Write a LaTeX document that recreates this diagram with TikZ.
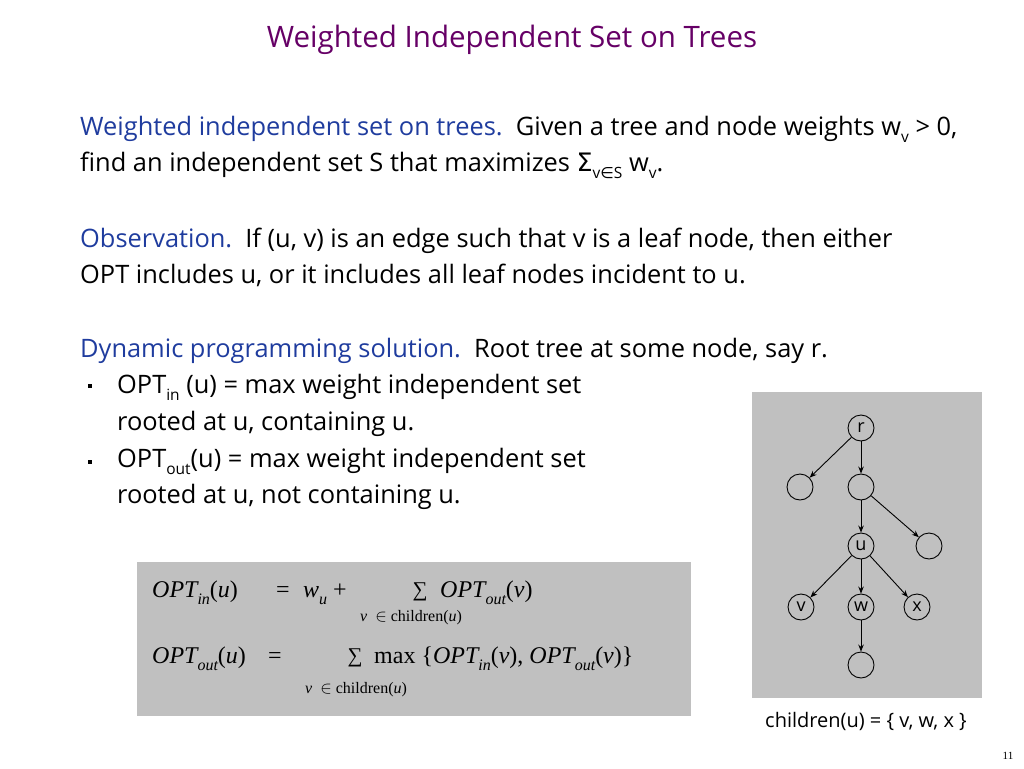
\documentclass[tikz,border=0pt]{standalone}
\usepackage{fontspec}
\usetikzlibrary{arrows.meta}
\setmainfont{Open Sans}
\newfontfamily\symf{DejaVu Sans}
\newfontfamily\tnr{Liberation Serif}
\definecolor{ttl}{HTML}{660066}
\definecolor{hd}{HTML}{1F3C9E}
\definecolor{boxg}{HTML}{C0C0C0}
\newcommand\sbs[1]{\raisebox{-0.3em}{\fontsize{15.5}{15.5}\selectfont #1}}
\newcommand\msb[1]{\raisebox{-0.3em}{\fontsize{16}{16}\selectfont\itshape #1}}
\tikzset{
  txt/.style={anchor=base west, inner sep=0pt, font=\fontsize{25.4}{30}\selectfont},
  mth/.style={anchor=base west, inner sep=0pt, font=\tnr\fontsize{24}{28}\selectfont},
  msm/.style={anchor=base west, inner sep=0pt, font=\tnr\fontsize{16}{18}\selectfont},
  sm/.style={anchor=base, inner sep=0pt, font=\tnr\fontsize{21}{22}\selectfont},
  tn/.style={circle, draw, line width=0.9pt, minimum size=26pt, inner sep=0pt, font=\fontsize{18}{18}\selectfont},
  ar/.style={-{Stealth[length=7pt,width=5.5pt]}, line width=0.9pt},
  bul/.style={fill=black, minimum size=4pt, inner sep=0pt}
}
\begin{document}
\begin{tikzpicture}[x=1pt,y=-1pt]
\useasboundingbox (0,0) rectangle (1024,768);
% title
\node[anchor=base, inner sep=0pt, text=ttl, font=\fontsize{29.5}{32}\selectfont] (title) at (512,48) {Weighted Independent Set on Trees};
% paragraph 1
\node[txt] (p1a) at (80,135) {\textcolor{hd}{Weighted independent set on trees.}\ \ Given a tree and node weights w\sbs{v} > 0,};
\node[txt] (p1b) at (80,171) {find an independent set S that maximizes {\symf Σ}\sbs{v{\symf ∈}S} w\sbs{v}.};
% paragraph 2
\node[txt] (p2a) at (80,247) {\textcolor{hd}{Observation.}\ \ If (u, v) is an edge such that v is a leaf node, then either};
\node[txt] (p2b) at (80,283) {OPT includes u, or it includes all leaf nodes incident to u.};
% paragraph 3
\node[txt] (p3a) at (80,357) {\textcolor{hd}{Dynamic programming solution.}\ \ Root tree at some node, say r.};
\node[bul] (b1) at (90,386) {};
\node[txt] (p3b) at (117,393) {OPT\sbs{in} (u) = max weight independent set};
\node[txt] (p3c) at (117,430) {rooted at u, containing u.};
\node[bul] (b2) at (90,462) {};
\node[txt] (p3d) at (117,467) {OPT\sbs{out}(u) = max weight independent set};
\node[txt] (p3e) at (117,503) {rooted at u, not containing u.};
% formula box
\node[fill=boxg, draw=none, minimum width=554pt, minimum height=154pt, anchor=north west, inner sep=0pt] (fbox) at (137,562) {};
\node[mth] (f1l) at (152,597) {\itshape OPT\msb{in}\upshape(\itshape u\upshape)};
\node[mth] (f1e) at (276,597) {=};
\node[mth] (f1w) at (303,597) {\itshape w\msb{u}\upshape\ +};
\node[sm] (f1s) at (420,596) {∑};
\node[mth] (f1r) at (440,597) {\itshape OPT\msb{out}\upshape(\itshape v\upshape)};
\node[msm] (f1c) at (360,621) {\itshape v\upshape\ \ $\in$ children(\itshape u\upshape)};
\node[mth] (f2l) at (152,663) {\itshape OPT\msb{out}\upshape(\itshape u\upshape)};
\node[mth] (f2e) at (268,663) {=};
\node[sm] (f2s) at (355,662) {∑};
\node[mth] (f2m) at (374,663) {max \{\itshape OPT\msb{in}\upshape(\itshape v\upshape), \itshape OPT\msb{out}\upshape(\itshape v\upshape)\}};
\node[msm] (f2c) at (305,693) {\itshape v\upshape\ \ $\in$ children(\itshape u\upshape)};
% tree box
\node[fill=boxg, draw=none, minimum width=230pt, minimum height=306pt, anchor=north west, inner sep=0pt] (tbox) at (752,392) {};
\node[tn] (r) at (861,428) {r};
\node[tn] (a) at (800,487) {};
\node[tn] (m) at (861,487) {};
\node[tn] (u) at (861,546) {u};
\node[tn] (b) at (929,546) {};
\node[tn] (v) at (801,607) {v};
\node[tn] (w) at (861,607) {w};
\node[tn] (x) at (917,607) {x};
\node[tn] (c) at (861,665) {};
\draw[ar] (r) -- (a);
\draw[ar] (r) -- (m);
\draw[ar] (m) -- (u);
\draw[ar] (m) -- (b);
\draw[ar] (u) -- (v);
\draw[ar] (u) -- (w);
\draw[ar] (u) -- (x);
\draw[ar] (w) -- (c);
\node[anchor=base, inner sep=0pt, font=\fontsize{20}{22}\selectfont] (lab) at (866,727) {children(u) = \{ v, w, x \}};
% page number
\node[anchor=base, inner sep=0pt, font=\tnr\fontsize{11}{12}\selectfont] (pg) at (1008,759) {11};
\end{tikzpicture}
\end{document}
